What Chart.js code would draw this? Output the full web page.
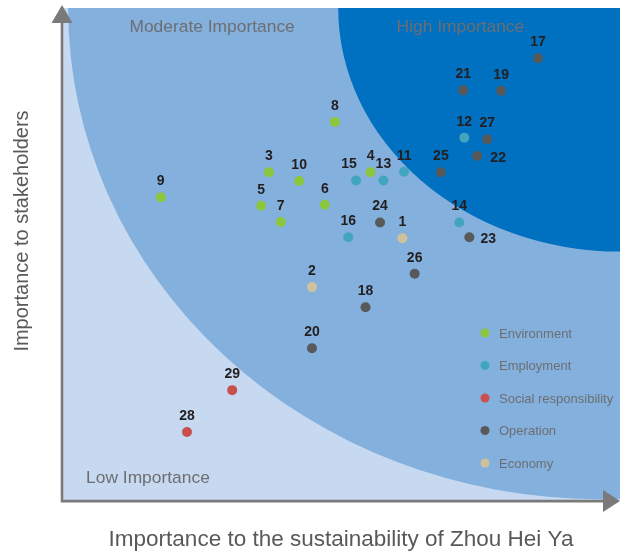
<!DOCTYPE html>
<html>
<head>
<meta charset="utf-8">
<title>Materiality matrix</title>
<script src="https://cdn.jsdelivr.net/npm/chart.js@4/dist/chart.umd.min.js"></script>
<style>
    html, body { margin: 0; padding: 0; background: #ffffff; }
    #wrap { width: 620px; height: 553px; }
    canvas { display: block; }
</style>
</head>
<body>
<div id="wrap"><canvas id="matrix" width="620" height="553"></canvas></div>
<script>
    // issue numbers with their scores (0-100 on both axes)
    const issueIds = [1, 2, 3, 4, 5, 6, 7, 8, 9, 10, 11, 12, 13, 14, 15, 16, 17, 18, 19, 20, 21, 22, 23, 24, 25, 26, 27, 28, 29];
    const sustainabilityScore = [61.0, 44.8, 37.1, 55.3, 35.7, 47.1, 39.2, 48.9, 17.7, 42.5, 61.3, 72.1, 57.6, 71.2, 52.7, 51.3, 85.3, 54.4, 78.7, 44.8, 71.9, 74.4, 73.0, 57.0, 67.9, 63.2, 76.2, 22.4, 30.5];
    const stakeholderScore = [53.3, 43.4, 66.7, 66.7, 59.9, 60.1, 56.6, 76.9, 61.6, 64.9, 66.8, 73.7, 65.0, 56.5, 65.0, 53.5, 89.8, 39.3, 83.2, 31.0, 83.3, 70.0, 53.5, 56.5, 66.7, 46.1, 73.4, 14.0, 22.5];
    const issueCategory = ['Economy', 'Economy', 'Environment', 'Environment', 'Environment', 'Environment', 'Environment', 'Environment', 'Environment', 'Environment',
        'Employment', 'Employment', 'Employment', 'Employment', 'Employment', 'Employment',
        'Operation', 'Operation', 'Operation', 'Operation', 'Operation', 'Operation', 'Operation', 'Operation', 'Operation', 'Operation', 'Operation',
        'Social responsibility', 'Social responsibility'];

    const categories = ['Environment', 'Employment', 'Social responsibility', 'Operation', 'Economy'];
    const categoryColors = ['#8cc63e', '#42a5be', '#c9504f', '#58595b', '#cdc29c'];

    // importance zones, in data units (quarter ellipses from the top-right corner)
    const zoneNames = ['Low Importance', 'Moderate Importance', 'High Importance'];
    const zoneColors = ['#c6d9f0', '#84b0de', '#0070c0'];
    const zoneLabelX = [15.4, 26.9, 71.4];
    const zoneLabelY = [4.7, 96.2, 96.2];

    const X_TITLE = 'Importance to the sustainability of Zhou Hei Ya';
    const Y_TITLE = 'Importance to stakeholders';

    const AXIS_COLOR = '#7a7a7a';
    const TEXT_GRAY = '#6d6e71';
    const TITLE_GRAY = '#595959';
    const FONT = "'Liberation Sans', Arial, sans-serif";

    // a few labels sit beside their dot instead of above it
    const labelNudge = { 15: [-7, -16], 22: [21, 2], 23: [19, 2] };

    const datasets = categories.map((cat, ci) => ({
        label: cat,
        data: issueIds
            .map((id, i) => ({ x: sustainabilityScore[i], y: stakeholderScore[i], id, cat: issueCategory[i] }))
            .filter(p => p.cat === cat),
        backgroundColor: categoryColors[ci],
        borderWidth: 0,
        pointRadius: 5,
        pointHoverRadius: 5
    }));

    const zonesPlugin = {
        id: 'zones',
        beforeDatasetsDraw(chart) {
            const { ctx, chartArea: a, scales: { x, y } } = chart;
            const ellipse = (cx, cy, rx, ry) => {
                const px = x.getPixelForValue(cx), py = y.getPixelForValue(cy);
                const rpx = Math.abs(px - x.getPixelForValue(cx - rx));
                const rpy = Math.abs(py - y.getPixelForValue(cy - ry));
                ctx.beginPath();
                ctx.ellipse(px, py, rpx, rpy, 0, 0, Math.PI * 2);
                ctx.fill();
            };
            ctx.save();
            ctx.beginPath();
            ctx.rect(a.left, a.top, a.right - a.left, a.bottom - a.top);
            ctx.clip();
            ctx.fillStyle = zoneColors[0];
            ctx.fillRect(a.left, a.top, a.right - a.left, a.bottom - a.top);
            ctx.fillStyle = zoneColors[1];
            ellipse(96.4, 100, 95.3, 99.6);
            ctx.fillStyle = zoneColors[2];
            ellipse(100, 100, 50.5, 49.4);
            ctx.restore();

            // zone captions
            ctx.save();
            ctx.font = '17.4px ' + FONT;
            ctx.fillStyle = TEXT_GRAY;
            ctx.textAlign = 'center';
            ctx.textBaseline = 'middle';
            zoneNames.forEach((n, i) => {
                ctx.fillText(n, x.getPixelForValue(zoneLabelX[i]), y.getPixelForValue(zoneLabelY[i]));
            });
            ctx.restore();

            // vertical axis title, sits a little above the middle of the plot
            ctx.save();
            ctx.font = '20px ' + FONT;
            ctx.fillStyle = TITLE_GRAY;
            ctx.textAlign = 'center';
            ctx.textBaseline = 'middle';
            ctx.translate(22, 231);
            ctx.rotate(-Math.PI / 2);
            ctx.fillText(Y_TITLE, 0, 0);
            ctx.restore();

            // axes with arrow heads
            ctx.save();
            ctx.strokeStyle = AXIS_COLOR;
            ctx.fillStyle = AXIS_COLOR;
            ctx.lineWidth = 2.6;
            ctx.beginPath();
            ctx.moveTo(a.left, a.bottom + 1.3);
            ctx.lineTo(a.left, a.top + 12);
            ctx.moveTo(a.left - 1.3, a.bottom);
            ctx.lineTo(a.right - 14, a.bottom);
            ctx.stroke();
            ctx.beginPath();
            ctx.moveTo(a.left, a.top - 3);
            ctx.lineTo(a.left - 10.5, a.top + 15);
            ctx.lineTo(a.left + 10.5, a.top + 15);
            ctx.closePath();
            ctx.fill();
            ctx.beginPath();
            ctx.moveTo(a.right, a.bottom);
            ctx.lineTo(a.right - 17, a.bottom - 11);
            ctx.lineTo(a.right - 17, a.bottom + 11);
            ctx.closePath();
            ctx.fill();
            ctx.restore();
        },
        afterDatasetsDraw(chart) {
            const { ctx } = chart;
            ctx.save();
            // issue numbers
            ctx.font = 'bold 14px ' + FONT;
            ctx.fillStyle = '#231f20';
            ctx.textAlign = 'center';
            ctx.textBaseline = 'middle';
            chart.data.datasets.forEach((ds, di) => {
                chart.getDatasetMeta(di).data.forEach((pt, j) => {
                    const id = ds.data[j].id;
                    const [dx, dy] = labelNudge[id] || [0, -16];
                    ctx.fillText(String(id), pt.x + dx, pt.y + dy);
                });
            });
            // legend inside the plot
            ctx.font = '13px ' + FONT;
            ctx.textAlign = 'left';
            categories.forEach((cat, i) => {
                const ly = 333 + i * 32.5;
                ctx.fillStyle = categoryColors[i];
                ctx.beginPath();
                ctx.arc(485, ly, 4.5, 0, Math.PI * 2);
                ctx.fill();
                ctx.fillStyle = TEXT_GRAY;
                ctx.fillText(cat, 499, ly + 1);
            });
            ctx.restore();
        }
    };

    Chart.defaults.font.family = FONT;

    const hiddenAxis = {
        min: 0, max: 100,
        ticks: { display: false },
        grid: { display: false, drawTicks: false },
        border: { display: false }
    };

    new Chart(document.getElementById('matrix'), {
        type: 'scatter',
        data: { datasets },
        options: {
            responsive: false,
            animation: false,
            events: [],
            layout: { autoPadding: false, padding: { top: 8, right: 0, left: 62, bottom: 0 } },
            plugins: { legend: { display: false }, tooltip: { enabled: false } },
            scales: {
                x: {
                    ...hiddenAxis,
                    title: {
                        display: true,
                        text: X_TITLE,
                        color: TITLE_GRAY,
                        font: { size: 22.5 },
                        padding: { top: 24.9, bottom: 0 }
                    }
                },
                y: {
                    ...hiddenAxis,
                    display: false
                }
            }
        },
        plugins: [zonesPlugin]
    });
</script>
</body>
</html>
